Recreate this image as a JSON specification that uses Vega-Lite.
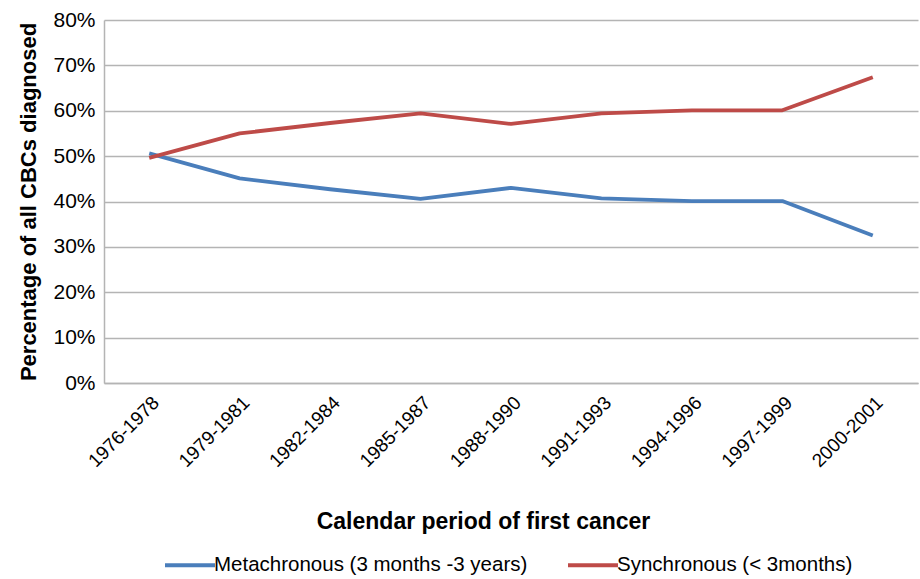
{
  "$schema": "https://vega.github.io/schema/vega-lite/v6.json",
  "autosize": "none",
  "width": 814,
  "height": 363,
  "padding": {"left": 104, "top": 20, "right": 2, "bottom": 196},
  "background": "white",
  "config": {
    "font": "Liberation Sans, sans-serif",
    "view": {"stroke": null}
  },
  "data": {
    "values": [
      {"period": "1976-1978", "series": "Metachronous (3 months -3 years)", "value": 0.506},
      {"period": "1979-1981", "series": "Metachronous (3 months -3 years)", "value": 0.451},
      {"period": "1982-1984", "series": "Metachronous (3 months -3 years)", "value": 0.427},
      {"period": "1985-1987", "series": "Metachronous (3 months -3 years)", "value": 0.406},
      {"period": "1988-1990", "series": "Metachronous (3 months -3 years)", "value": 0.430},
      {"period": "1991-1993", "series": "Metachronous (3 months -3 years)", "value": 0.407},
      {"period": "1994-1996", "series": "Metachronous (3 months -3 years)", "value": 0.401},
      {"period": "1997-1999", "series": "Metachronous (3 months -3 years)", "value": 0.401},
      {"period": "2000-2001", "series": "Metachronous (3 months -3 years)", "value": 0.325},
      {"period": "1976-1978", "series": "Synchronous (< 3months)", "value": 0.496},
      {"period": "1979-1981", "series": "Synchronous (< 3months)", "value": 0.550},
      {"period": "1982-1984", "series": "Synchronous (< 3months)", "value": 0.573},
      {"period": "1985-1987", "series": "Synchronous (< 3months)", "value": 0.594},
      {"period": "1988-1990", "series": "Synchronous (< 3months)", "value": 0.571},
      {"period": "1991-1993", "series": "Synchronous (< 3months)", "value": 0.594},
      {"period": "1994-1996", "series": "Synchronous (< 3months)", "value": 0.601},
      {"period": "1997-1999", "series": "Synchronous (< 3months)", "value": 0.601},
      {"period": "2000-2001", "series": "Synchronous (< 3months)", "value": 0.674}
    ]
  },
  "mark": {"type": "line", "strokeWidth": 3.8, "strokeCap": "butt", "strokeJoin": "round"},
  "encoding": {
    "x": {
      "field": "period",
      "type": "ordinal",
      "scale": {"type": "point", "padding": 0.5},
      "axis": {
        "title": "Calendar period of first cancer",
        "titleFontSize": 23,
        "titleFontWeight": "bold",
        "titleColor": "#000000",
        "titleX": 379,
        "titleY": 138,
        "titleBaseline": "middle",
        "labelAngle": -45,
        "labelFontSize": 19,
        "labelColor": "#000000",
        "labelPadding": 10,
        "ticks": false,
        "domainColor": "#b4b4b4",
        "domainWidth": 1.5,
        "grid": false
      }
    },
    "y": {
      "field": "value",
      "type": "quantitative",
      "scale": {"domain": [0, 0.8], "nice": false},
      "axis": {
        "title": "Percentage of all CBCs diagnosed",
        "titleFontSize": 22,
        "titleFontWeight": "bold",
        "titleColor": "#000000",
        "titlePadding": 12,
        "format": ".0%",
        "values": [0, 0.1, 0.2, 0.3, 0.4, 0.5, 0.6, 0.7, 0.8],
        "labelFontSize": 21,
        "labelColor": "#000000",
        "labelPadding": 9,
        "ticks": false,
        "domainColor": "#b4b4b4",
        "domainWidth": 1.5,
        "grid": true,
        "gridColor": "#b4b4b4",
        "gridWidth": 1.5
      }
    },
    "color": {
      "field": "series",
      "type": "nominal",
      "scale": {
        "domain": ["Metachronous (3 months -3 years)", "Synchronous (< 3months)"],
        "range": ["#4a7ebb", "#be4b48"]
      },
      "legend": {
        "title": null,
        "orient": "none",
        "legendX": 59,
        "legendY": 518,
        "direction": "horizontal",
        "symbolType": "stroke",
        "symbolSize": 2500,
        "symbolStrokeWidth": 3.8,
        "labelFontSize": 20.5,
        "labelColor": "#000000",
        "labelOffset": -3,
        "columnPadding": 32,
        "labelLimit": 400
      }
    }
  }
}
